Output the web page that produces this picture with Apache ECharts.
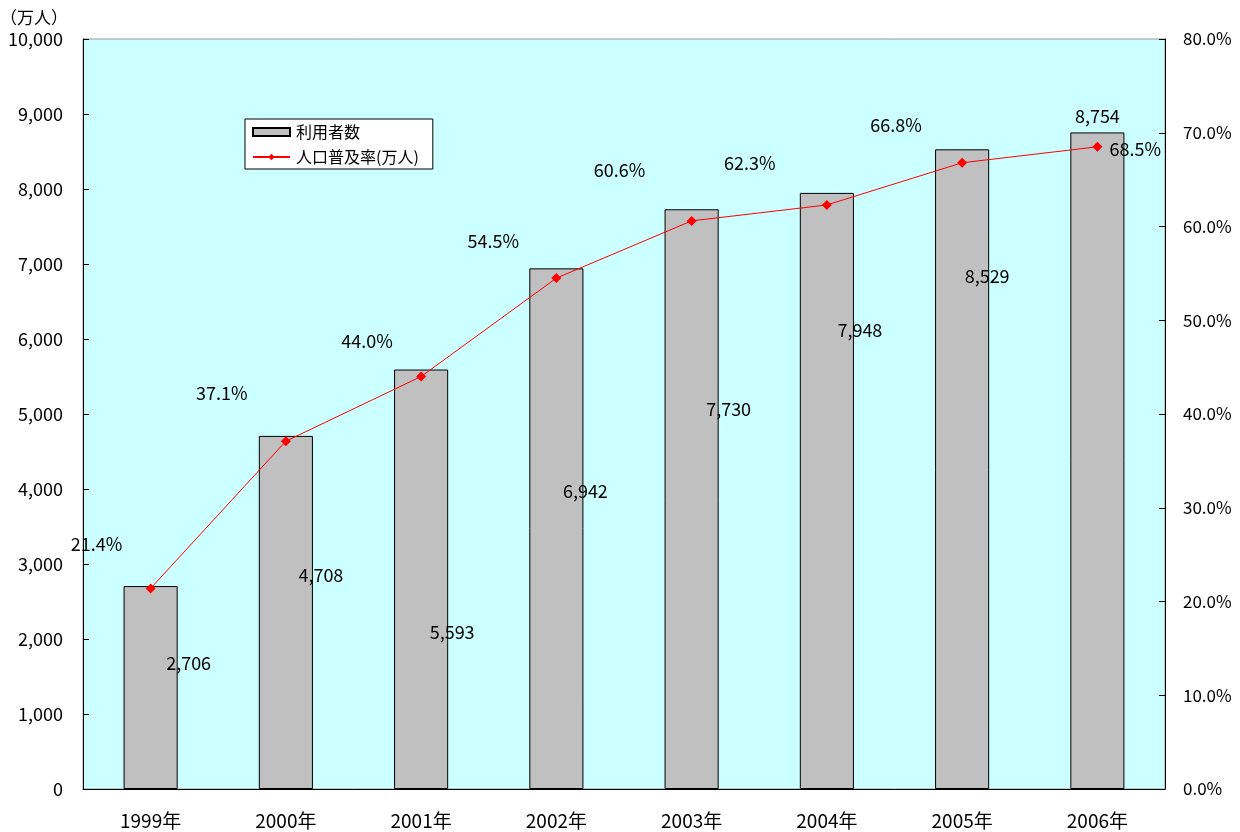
<!DOCTYPE html>
<html>
<head>
<meta charset="utf-8">
<script src="https://cdn.jsdelivr.net/npm/echarts@6/dist/echarts.min.js"></script>
<style>
  html, body { margin: 0; padding: 0; background: #fff; }
  #chart { width: 1240px; height: 832px; }
</style>
</head>
<body>
<div id="chart"></div>
<script>
// data
const years = ["1999年", "2000年", "2001年", "2002年", "2003年", "2004年", "2005年", "2006年"];
const users = [2706, 4708, 5593, 6942, 7730, 7948, 8529, 8754];
const rates = [21.4, 37.1, 44.0, 54.5, 60.6, 62.3, 66.8, 68.5];

// label offsets (moved by hand in the original)
const barLabelOffsets = [[38, -24], [35, -37], [31, 53], [29, -38], [37, -90], [33, -161], [25, -193], [0, -345]];
const lineLabelOffsets = [[-54, -44], [-64, -48], [-54, -35], [-63, -37], [-72, -51], [-77, -42], [-66, -38], [38, 2]];

const font = "'Noto Sans CJK JP', 'Noto Sans', sans-serif";
const chart = echarts.init(document.getElementById("chart"));

const option = {
  animation: false,
  textStyle: { fontFamily: font, color: "#000" },
  grid: {
    left: 83,
    right: 75,
    top: 39,
    bottom: 43,
    outerBoundsMode: "none",
    containLabel: false,
    show: true,
    backgroundColor: "#CCFFFF",
    borderColor: "#999",
    borderWidth: 1,
  },
  legend: {
    orient: "vertical",
    left: 245,
    top: 119,
    itemWidth: 37,
    itemHeight: 8,
    itemGap: 9,
    padding: [5, 14, 4, 7],
    backgroundColor: "#fff",
    borderColor: "#000",
    borderWidth: 1,
    borderRadius: 0,
    textStyle: { fontFamily: font, fontSize: 16, color: "#000", padding: [0, 0, 0, 1] },
    data: [
      { name: "利用者数", icon: "rect" },
      { name: "人口普及率(万人)" },
    ],
  },
  xAxis: {
    type: "category",
    data: years,
    axisLine: { lineStyle: { color: "#000", width: 1 } },
    axisTick: { inside: true, length: 6, lineStyle: { color: "#000" } },
    axisLabel: { fontFamily: font, fontSize: 19, color: "#000", margin: 22 },
  },
  yAxis: [
    {
      type: "value",
      min: 0,
      max: 10000,
      interval: 1000,
      name: "（万人）",
      nameLocation: "end",
      nameGap: 13,
      nameTextStyle: { fontFamily: font, fontSize: 17, color: "#000", align: "right", padding: [0, 15, 0, 0] },
      axisLine: { show: true, lineStyle: { color: "#000" } },
      axisTick: { show: true, inside: true, length: 6, lineStyle: { color: "#000" } },
      axisLabel: {
        fontFamily: font, fontSize: 18, color: "#000", margin: 20,
        formatter: (v) => v.toLocaleString("en-US"),
      },
      splitLine: { show: false },
    },
    {
      type: "value",
      min: 0,
      max: 80,
      interval: 10,
      position: "right",
      axisLine: { show: true, lineStyle: { color: "#000" } },
      axisTick: { show: true, inside: true, length: 6, lineStyle: { color: "#000" } },
      axisLabel: {
        fontFamily: font, fontSize: 17, color: "#000", margin: 18,
        formatter: (v) => v.toFixed(1) + "%",
      },
      splitLine: { show: false },
    },
  ],
  series: [
    {
      name: "利用者数",
      type: "bar",
      barWidth: "40%",
      itemStyle: { color: "#C0C0C0", borderColor: "#000", borderWidth: 1 },
      data: users.map((v, i) => ({
        value: v,
        label: { offset: barLabelOffsets[i] },
      })),
      label: {
        show: true,
        position: "inside",
        fontFamily: font,
        fontSize: 18,
        color: "#000",
        formatter: (p) => p.value.toLocaleString("en-US"),
      },
    },
    {
      name: "人口普及率(万人)",
      type: "line",
      yAxisIndex: 1,
      symbol: "diamond",
      symbolSize: 10,
      lineStyle: { color: "#FF0000", width: 1 },
      itemStyle: { color: "#FF0000" },
      data: rates.map((v, i) => ({
        value: v,
        label: { offset: lineLabelOffsets[i] },
      })),
      label: {
        show: true,
        position: "inside",
        fontFamily: font,
        fontSize: 18,
        color: "#000",
        formatter: (p) => p.value.toFixed(1) + "%",
      },
    },
  ],
};

chart.setOption(option);
</script>
</body>
</html>
